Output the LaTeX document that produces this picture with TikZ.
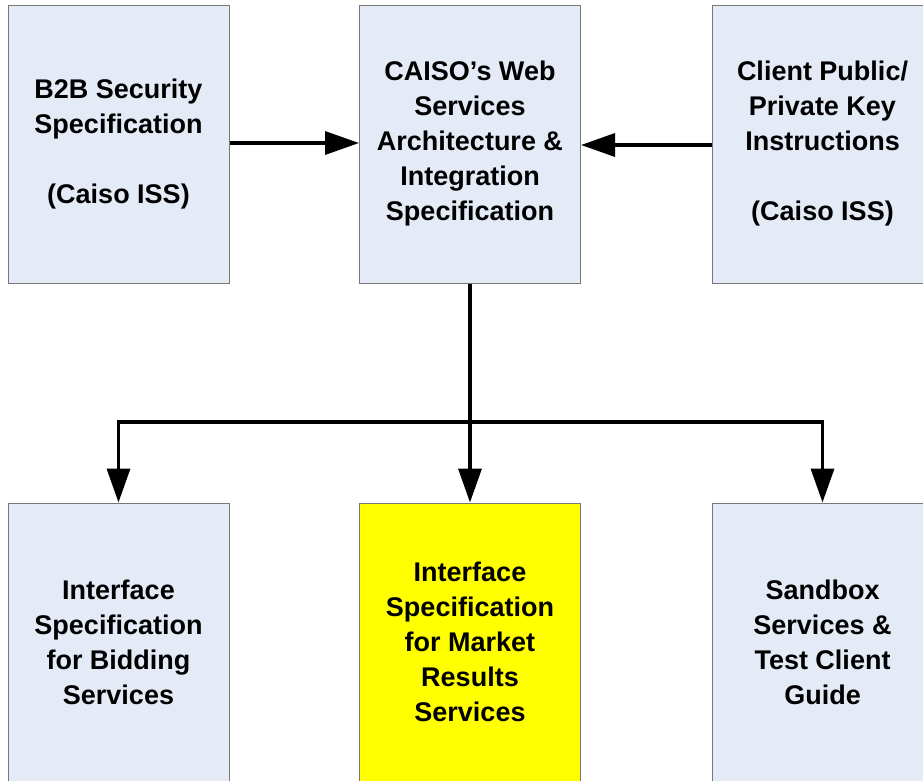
\documentclass[tikz,border=0pt]{standalone}
\usepackage{fontspec}
\setmainfont{Liberation Sans}
\usetikzlibrary{arrows.meta}
\definecolor{docblue}{RGB}{228,235,247}
\definecolor{docedge}{RGB}{120,120,120}
\definecolor{docyellow}{RGB}{255,255,0}

\begin{document}
\begin{tikzpicture}[x=1pt, y=-1pt,
  docbox/.style={draw=docedge, line width=1pt, fill=docblue, minimum width=221pt,
    minimum height=278pt, align=center, inner sep=0pt,
    font=\fontsize{27}{35}\selectfont\bfseries},
  link/.style={line width=3.5pt, -{Triangle[length=34pt,width=23pt]}}]
\useasboundingbox (0,0) rectangle (923,780);

% Top row
\node[docbox] (b2b) at (118.5,144) {B2B Security\\Specification\\[35pt](Caiso ISS)};
\node[docbox] (arch) at (470,144) {CAISO’s Web\\Services\\Architecture \&\\Integration\\Specification};
\node[docbox] (keys) at (822.5,144) {Client Public/\\Private Key\\Instructions\\[35pt](Caiso ISS)};

% Bottom row
\node[docbox] (bid) at (118.5,642) {Interface\\Specification\\for Bidding\\Services};
\node[docbox, fill=docyellow] (mkt) at (470,642) {Interface\\Specification\\for Market\\Results\\Services};
\node[docbox] (sbx) at (822.5,642) {Sandbox\\Services \&\\Test Client\\Guide};

% Connectors
\draw[link] (b2b.east |- 0,143) -- (arch.west |- 0,143);
\draw[link] (keys.west |- 0,145) -- (arch.east |- 0,145);
\coordinate (hub) at (470,422);
\draw[line width=3.5pt] (arch.south) -- (hub);
\draw[link] (hub) -- (mkt.north);
\draw[link] (hub) -| (bid.north);
\draw[link] (hub) -| (sbx.north);
\end{tikzpicture}
\end{document}
